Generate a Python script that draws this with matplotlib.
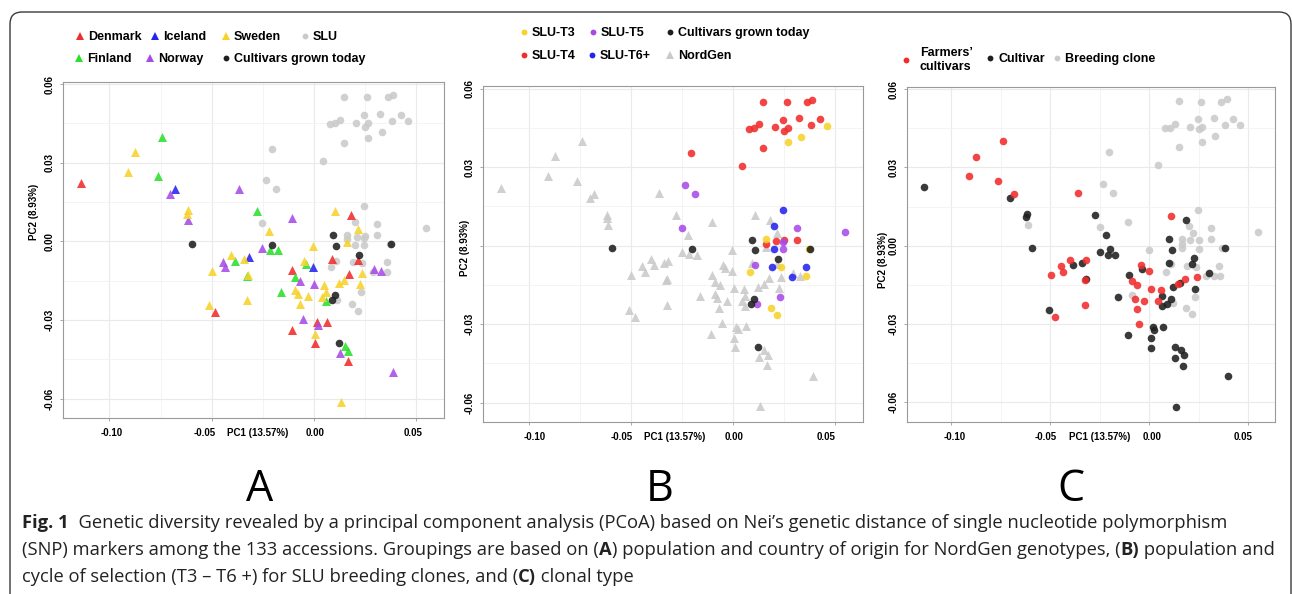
import matplotlib
matplotlib.use("Agg")
import matplotlib.pyplot as plt
from matplotlib.lines import Line2D
from matplotlib.patches import FancyBboxPatch
from matplotlib.transforms import IdentityTransform, ScaledTranslation

# ---------------- data ----------------
# Panel A: NordGen accessions by country of origin (triangles)
denmark_x = [-0.1137, 0.0181, 0.0090, 0.0213, -0.0106, 0.0173, -0.0482, 0.0013, 0.0062, -0.0109, 0.0007, 0.0166]
denmark_y = [0.0222, 0.0099, -0.0067, -0.0071, -0.0111, -0.0125, -0.0271, -0.0309, -0.0306, -0.0339, -0.0389, -0.0456]
finland_x = [-0.0741, -0.0765, -0.0279, -0.0215, -0.0178, -0.0388, -0.0329, -0.0041, -0.0091, -0.0161, 0.0057, 0.0151, 0.0168]
finland_y = [0.0399, 0.0248, 0.0116, -0.0032, -0.0034, -0.0075, -0.0132, -0.0085, -0.0137, -0.0193, -0.0229, -0.0398, -0.0417]
iceland_x = [-0.0682, -0.0319, -0.0007]
iceland_y = [0.0198, -0.0058, -0.0097]
norway_x = [-0.0704, -0.0616, -0.0365, -0.0106, -0.0252, -0.0446, -0.0435, -0.0067, 0.0002, -0.0054, 0.0021, 0.0127, 0.0293, 0.0327, 0.0388]
norway_y = [0.0182, 0.0080, 0.0201, 0.0090, -0.0024, -0.0079, -0.0099, -0.0150, -0.0161, -0.0295, -0.0320, -0.0426, -0.0104, -0.0114, -0.0498]
sweden_x = [-0.0875, -0.0909, -0.0617, -0.0621, -0.0220, 0.0104, 0.0215, 0.0160, -0.0007, -0.0050,
            -0.0404, -0.0342, -0.0500, -0.0324, -0.0327, -0.0513, -0.0091, -0.0078, -0.0031, -0.0068,
            0.0050, 0.0057, 0.0041, 0.0121, 0.0148, 0.0235, 0.0226, 0.0005, 0.0132]
sweden_y = [0.0341, 0.0266, 0.0119, 0.0106, 0.0041, 0.0116, 0.0048, -0.0004, -0.0017, -0.0074,
            -0.0051, -0.0066, -0.0112, -0.0128, -0.0225, -0.0244, -0.0186, -0.0201, -0.0210, -0.0240,
            -0.0165, -0.0192, -0.0211, -0.0159, -0.0146, -0.0119, -0.0161, -0.0352, -0.0614]

# Cultivars grown today (panels A and B)
cult_x = [-0.0596, -0.0204, 0.0091, 0.0107, 0.0218, 0.0375, 0.0103, 0.0086, 0.0121]
cult_y = [-0.0009, -0.0013, 0.0023, -0.0018, -0.0051, -0.0011, -0.0205, -0.0224, -0.0389]

# Panel B: SLU breeding clones by selection cycle
t3_x = [0.0458, 0.0266, 0.0332, 0.0162, 0.0369, 0.0235, 0.0083, 0.0358, 0.0183, 0.0216]
t3_y = [0.0459, 0.0395, 0.0417, 0.0025, -0.0011, -0.0083, -0.0099, -0.0117, -0.0238, -0.0264]
t4_x = [0.0147, 0.0261, 0.0359, 0.0387, 0.0078, 0.0103, 0.0127, 0.0204, 0.0242, 0.0247,
        0.0266, 0.0324, 0.0379, 0.0423, 0.0147, -0.0206, 0.0044, 0.0162, 0.0211, 0.0247, 0.0310]
t4_y = [0.0550, 0.0549, 0.0549, 0.0557, 0.0447, 0.0451, 0.0464, 0.0452, 0.0482, 0.0438,
        0.0451, 0.0487, 0.0461, 0.0484, 0.0375, 0.0354, 0.0306, 0.0008, 0.0018, 0.0020, 0.0023]
t5_x = [-0.0237, -0.0188, -0.0253, 0.0310, 0.0547, 0.0243, 0.0243, 0.0108, 0.0230, 0.0114]
t5_y = [0.0233, 0.0199, 0.0069, 0.0068, 0.0051, 0.0014, -0.0013, -0.0074, -0.0195, -0.0223]
t6_x = [0.0243, 0.0199, 0.0199, 0.0188, 0.0288, 0.0355]
t6_y = [0.0135, 0.0075, -0.0013, -0.0080, -0.0118, -0.0080]

# Panel C: clonal type
farm_x = [-0.0741, -0.0873, -0.0908, -0.0764, -0.0683, -0.0361, 0.0108, -0.0498, -0.0444, -0.0434,
          -0.0402, -0.0317, -0.0327, -0.0324, -0.0478, -0.0044, -0.0003, -0.0086, -0.0063, 0.0007,
          -0.0073, -0.0025, -0.0064, -0.0054, 0.0058, 0.0046, 0.0147, 0.0178, 0.0241]
farm_y = [0.0400, 0.0341, 0.0267, 0.0248, 0.0198, 0.0201, 0.0115, -0.0111, -0.0078, -0.0100,
          -0.0055, -0.0056, -0.0132, -0.0226, -0.0272, -0.0074, -0.0097, -0.0137, -0.0150, -0.0165,
          -0.0205, -0.0211, -0.0242, -0.0299, -0.0171, -0.0211, -0.0147, -0.0129, -0.0120]
cultc_x = [-0.1137, -0.0703, -0.0617, -0.0620, -0.0593, -0.0275, -0.0217, -0.0249, -0.0210, -0.0200,
           -0.0173, -0.0341, -0.0386, -0.0319, -0.0508, -0.0156, -0.0103, -0.0036, 0.0186, 0.0098,
           0.0115, 0.0098, 0.0224, 0.0217, 0.0302, 0.0385, 0.0231, 0.0122, 0.0153, 0.0064,
           0.0063, 0.0088, 0.0108, 0.0068, 0.0020, 0.0024, -0.0105, 0.0010, 0.0010, 0.0129,
           0.0161, 0.0175, 0.0131, 0.0171, 0.0397, 0.0136]
cultc_y = [0.0225, 0.0183, 0.0123, 0.0110, -0.0008, 0.0116, 0.0040, -0.0026, -0.0035, -0.0013,
           -0.0035, -0.0068, -0.0075, -0.0129, -0.0247, -0.0197, -0.0111, -0.0088, 0.0098, 0.0024,
           -0.0018, -0.0065, -0.0049, -0.0072, -0.0104, -0.0010, -0.0165, -0.0160, -0.0144, -0.0192,
           -0.0230, -0.0224, -0.0205, -0.0311, -0.0311, -0.0322, -0.0344, -0.0354, -0.0392, -0.0387,
           -0.0400, -0.0421, -0.0430, -0.0460, -0.0500, -0.0617]
breed_x = [0.0151, 0.0261, 0.0363, 0.0392, 0.0244, 0.0327, 0.0424, 0.0081, 0.0105, 0.0129,
           0.0207, 0.0249, 0.0266, 0.0334, 0.0380, 0.0456, 0.0268, 0.0149, -0.0203, 0.0044,
           -0.0234, -0.0185, 0.0247, -0.0105, -0.0614, -0.0249, 0.0200, 0.0312, 0.0220, 0.0547,
           0.0166, 0.0207, 0.0249, 0.0166, 0.0166, 0.0249, 0.0312, 0.0368, 0.0000, 0.0112,
           0.0190, 0.0234, 0.0085, 0.0286, 0.0327, 0.0359, 0.0354, 0.0229, -0.0088, 0.0122,
           0.0185, 0.0215]
breed_y = [0.0553, 0.0552, 0.0552, 0.0561, 0.0484, 0.0491, 0.0487, 0.0450, 0.0453, 0.0467,
           0.0454, 0.0449, 0.0456, 0.0419, 0.0464, 0.0461, 0.0398, 0.0378, 0.0358, 0.0309,
           0.0235, 0.0201, 0.0138, 0.0091, 0.0078, 0.0072, 0.0077, 0.0069, 0.0047, 0.0052,
           0.0024, 0.0020, 0.0022, 0.0008, -0.0010, -0.0012, 0.0024, -0.0009, -0.0017, -0.0072,
           -0.0078, -0.0081, -0.0100, -0.0116, -0.0116, -0.0116, -0.0078, -0.0196, -0.0188, -0.0221,
           -0.0238, -0.0263]

x_ticks = [-0.10, -0.05, 0.00, 0.05]
x_ticklabels = ["-0.10", "-0.05", "0.00", "0.05"]
y_ticks = [-0.06, -0.03, 0.00, 0.03, 0.06]
y_ticklabels = ["-0.06", "-0.03", "0.00", "0.03", "0.06"]
xlabel_text = "PC1 (13.57%)"
ylabel_text = "PC2 (8.93%)"

# ---------------- styles ----------------
RED, GREEN, BLUE, PURPLE, YELLOW = "#F22B2B", "#2BE02B", "#2424F0", "#A64BE8", "#F7D22A"
GRAY, BLACK = "#CACACA", "#1F1F1F"
ALPHA = 0.88
S_CIRC, S_TRI = 30, 42

W, H = 1292, 594
fig = plt.figure(figsize=(W / 100, H / 100), dpi=100)
fig.patch.set_facecolor("white")

TICKFONT = dict(family=["Liberation Sans", "DejaVu Sans"], weight="bold", size=7)
LEGFONT = dict(family=["Liberation Sans", "DejaVu Sans"], weight="bold", size=9)


def px_axes(l, t, r, b):
    return fig.add_axes([l / W, 1 - b / H, (r - l) / W, (b - t) / H])


def style(ax, xlab_pos, ylab_pos, xshift, hide_zero=False):
    ax.set_xlim(-0.1225, 0.0635)
    ax.set_ylim(-0.0675, 0.061)
    ax.set_xticks(x_ticks)
    ax.set_xticklabels(x_ticklabels, **TICKFONT)
    ax.set_xticks([-0.075, -0.025, 0.025], minor=True)
    ylabs = [("" if (hide_zero and v == 0) else l) for v, l in zip(y_ticks, y_ticklabels)]
    ax.set_yticks(y_ticks)
    ax.set_yticklabels(ylabs, rotation=90, va="center", **TICKFONT)
    ax.set_yticks([-0.045, -0.015, 0.015, 0.045], minor=True)
    ax.grid(which="major", color="#EAEAEA", lw=0.8)
    ax.grid(which="minor", color="#F2F2F2", lw=0.6)
    ax.set_axisbelow(True)
    ax.tick_params(which="minor", length=0)
    ax.tick_params(which="major", length=2.5, width=0.6, color="#9A9A9A")
    ax.tick_params(axis="x", pad=4.8)
    ax.tick_params(axis="y", pad=3.5)
    for sp in ax.spines.values():
        sp.set_color("#9A9A9A")
        sp.set_linewidth(0.8)
    ax.set_xlabel(xlabel_text, **TICKFONT)
    ax.xaxis.label.set_va("center")
    ax.xaxis.set_label_coords(*xlab_pos)
    ax.set_ylabel(ylabel_text, **TICKFONT)
    ax.yaxis.label.set_va("center")
    ax.yaxis.set_label_coords(*ylab_pos)
    # small horizontal nudges of the x tick labels (as in the original layout)
    for lab, dx in zip(ax.get_xticklabels(), xshift):
        lab.set_transform(lab.get_transform() + ScaledTranslation(dx / 100, 0, fig.dpi_scale_trans))


def pts(ax, x, y, color, marker="o"):
    ax.scatter(x, y, s=S_TRI if marker == "^" else S_CIRC, c=color, marker=marker,
               alpha=ALPHA, linewidths=0, zorder=3)


# ---------- Panel A ----------
axA = px_axes(63.4, 81.5, 444.0, 418.2)
slu_x = t3_x + t4_x + t5_x + t6_x
slu_y = t3_y + t4_y + t5_y + t6_y
pts(axA, slu_x, slu_y, GRAY)
pts(axA, denmark_x, denmark_y, RED, "^")
pts(axA, finland_x, finland_y, GREEN, "^")
pts(axA, iceland_x, iceland_y, BLUE, "^")
pts(axA, norway_x, norway_y, PURPLE, "^")
pts(axA, sweden_x, sweden_y, YELLOW, "^")
pts(axA, cult_x, cult_y, BLACK)
style(axA, (0.511, -0.044), (-0.077, 0.612), [2, -7, 1, -3])

# ---------- Panel B ----------
axB = px_axes(483.4, 86.1, 862.9, 422.3)
nord_x = denmark_x + finland_x + iceland_x + norway_x + sweden_x
nord_y = denmark_y + finland_y + iceland_y + norway_y + sweden_y
pts(axB, nord_x, nord_y, GRAY, "^")
pts(axB, t4_x, t4_y, RED)
pts(axB, t3_x, t3_y, YELLOW)
pts(axB, t5_x, t5_y, PURPLE)
pts(axB, t6_x, t6_y, BLUE)
pts(axB, cult_x, cult_y, BLACK)
style(axB, (0.503, -0.044), (-0.048, 0.519), [5, -10, 1, -9], hide_zero=True)

# ---------- Panel C ----------
axC = px_axes(906.7, 86.6, 1275.0, 421.7)
pts(axC, breed_x, breed_y, GRAY)
pts(axC, cultc_x, cultc_y, BLACK)
pts(axC, farm_x, farm_y, RED)
style(axC, (0.525, -0.046), (-0.064, 0.483), [3, -5, 3, -5])

# ---------- legends (one key per entry, positioned in pixels) ----------
HL = 1.0


def key(xm, y, marker, color, label, ms, tpad=0.15):
    h = Line2D([], [], ls="none", marker=marker, color=color, markersize=ms,
               markeredgewidth=0)
    hl_px = HL * LEGFONT["size"] * 100 / 72
    leg = fig.legend(handles=[h], labels=[label], loc="center left",
                     bbox_to_anchor=((xm - hl_px / 2) / W, 1 - y / H),
                     frameon=False, handlelength=HL, handletextpad=tpad,
                     borderpad=0, borderaxespad=0, prop=LEGFONT)
    return leg


TRI_MS, CIRC_MS = 5.5, 4.2
key(80, 37, "^", RED, "Denmark", TRI_MS)
key(155, 37, "^", BLUE, "Iceland", TRI_MS)
key(226, 37, "^", YELLOW, "Sweden", TRI_MS)
key(305, 37, "o", GRAY, "SLU", CIRC_MS)
key(79, 59, "^", GREEN, "Finland", TRI_MS)
key(150, 59, "^", PURPLE, "Norway", TRI_MS)
key(226, 59, "o", BLACK, "Cultivars grown today", CIRC_MS)

key(524, 33, "o", YELLOW, "SLU-T3", CIRC_MS)
key(593, 33, "o", PURPLE, "SLU-T5", CIRC_MS)
key(670, 33, "o", BLACK, "Cultivars grown today", CIRC_MS)
key(524, 56, "o", RED, "SLU-T4", CIRC_MS)
key(592, 56, "o", BLUE, "SLU-T6+", CIRC_MS)
key(670, 56, "^", GRAY, "NordGen", TRI_MS)

key(906, 60, "o", RED, "Farmers’\ncultivars", CIRC_MS, tpad=0.6)
key(990, 59, "o", BLACK, "Cultivar", CIRC_MS)
key(1057, 59, "o", GRAY, "Breeding clone", CIRC_MS)

# ---------- panel letters ----------
for lx, letter in [(260, "A"), (660, "B"), (1071, "C")]:
    fig.text(lx / W, 1 - 490 / H, letter, ha="center", va="center",
             fontsize=31, family=["Open Sans", "DejaVu Sans"])

# ---------- outer rounded box ----------
box = FancyBboxPatch((10, -30), 1281, (H - 12) + 30,
                     boxstyle="round,pad=0,rounding_size=12",
                     transform=IdentityTransform(), fill=False,
                     ec="#3A3A3A", lw=1.0)
fig.add_artist(box)

# ---------- caption with mixed bold ----------
renderer = fig.canvas.get_renderer()
CAP = dict(family=["Open Sans", "DejaVu Sans"], size=13.2, color="#222222")
caption = [
    (523, [("Fig. 1", True), ("  Genetic diversity revealed by a principal component analysis (PCoA) based on Nei’s genetic distance of single nucleotide polymorphism", False)]),
    (550, [("(SNP) markers among the 133 accessions. Groupings are based on (", False), ("A", True),
           (") population and country of origin for NordGen genotypes, (", False), ("B)", True),
           (" population and", False)]),
    (577, [("cycle of selection (T3 – T6 +) for SLU breeding clones, and (", False), ("C)", True),
           (" clonal type", False)]),
]
for yline, parts in caption:
    x = 22
    for txt, bold in parts:
        t = fig.text(x / W, 1 - yline / H, txt, ha="left", va="center",
                     weight="bold" if bold else "normal", **CAP)
        bb = t.get_window_extent(renderer)
        x = bb.x1

fig.savefig("out.png", dpi=100, facecolor="white")
